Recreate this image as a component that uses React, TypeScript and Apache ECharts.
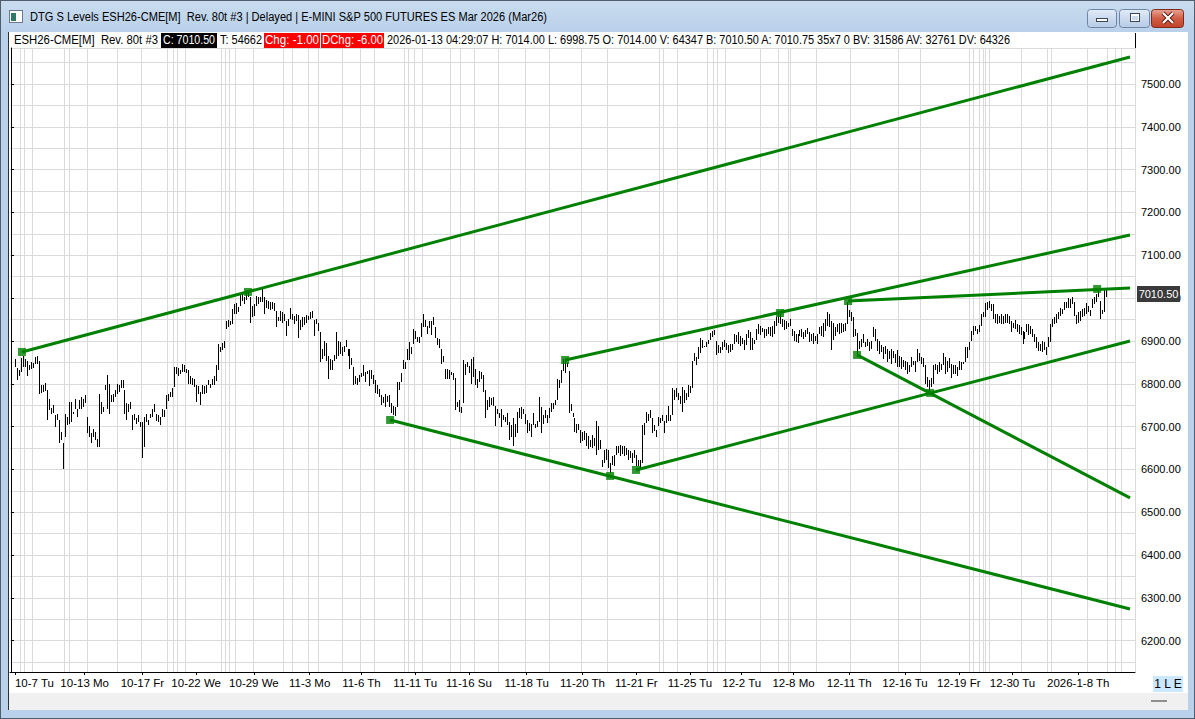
import React, { useEffect, useRef } from 'react';
import * as echarts from 'echarts';

const FONT = "'Liberation Sans', Arial, Helvetica, sans-serif";

// ---------------- data ----------------
// high / low of each 80-tick reversal bar, oldest first
const barHigh: number[] = [
  6858, 6837, 6831, 6860, 6864, 6858, 6854, 6843, 6850, 6848,
  6862, 6864, 6854, 6798, 6796, 6802, 6785, 6765, 6744, 6750,
  6728, 6730, 6715, 6688, 6662, 6730, 6723, 6757, 6757, 6734,
  6765, 6742, 6763, 6768, 6765, 6773, 6723, 6701, 6684, 6695,
  6688, 6670, 6777, 6757, 6746, 6798, 6821, 6800, 6773, 6777,
  6785, 6800, 6796, 6809, 6808, 6785, 6755, 6752, 6757, 6726,
  6729, 6721, 6726, 6711, 6711, 6723, 6729, 6715, 6730, 6740,
  6752, 6730, 6726, 6723, 6742, 6738, 6773, 6775, 6781, 6791,
  6839, 6840, 6837, 6833, 6845, 6843, 6835, 6833, 6819, 6814,
  6812, 6796, 6794, 6781, 6798, 6794, 6796, 6809, 6800, 6812,
  6817, 6843, 6892, 6887, 6895, 6899, 6947, 6949, 6947, 6974,
  6986, 6988, 6980, 7008, 7011, 7003, 7019, 7016, 7002, 6982,
  6986, 7005, 7003, 7003, 7021, 7002, 6995, 6994, 6992, 6990,
  6988, 6971, 6955, 6971, 6967, 6964, 6947, 6951, 6977, 6964,
  6959, 6963, 6961, 6949, 6955, 6955, 6961, 6959, 6967, 6971,
  6949, 6951, 6943, 6922, 6881, 6899, 6895, 6864, 6858, 6856,
  6868, 6920, 6899, 6897, 6887, 6889, 6902, 6881, 6881, 6860,
  6840, 6817, 6814, 6820, 6825, 6843, 6827, 6829, 6831, 6831,
  6820, 6808, 6796, 6788, 6773, 6769, 6777, 6771, 6773, 6754,
  6748, 6746, 6804, 6804, 6825, 6855, 6851, 6882, 6897, 6886,
  6928, 6924, 6910, 6909, 6941, 6963, 6948, 6934, 6946, 6946,
  6955, 6932, 6907, 6905, 6882, 6866, 6835, 6835, 6831, 6828,
  6824, 6814, 6758, 6762, 6746, 6856, 6847, 6851, 6841, 6859,
  6862, 6835, 6812, 6830, 6828, 6820, 6785, 6762, 6768, 6766,
  6768, 6748, 6742, 6731, 6742, 6727, 6723, 6731, 6711, 6704,
  6719, 6707, 6734, 6744, 6746, 6740, 6729, 6715, 6709, 6706,
  6731, 6707, 6713, 6768, 6746, 6727, 6738, 6727, 6744, 6755,
  6754, 6762, 6810, 6808, 6833, 6859, 6856, 6848, 6830, 6752,
  6731, 6719, 6706, 6707, 6693, 6687, 6689, 6684, 6677, 6668,
  6681, 6673, 6712, 6702, 6669, 6623, 6645, 6648, 6646, 6615,
  6631, 6634, 6654, 6655, 6658, 6654, 6654, 6650, 6646, 6642,
  6638, 6646, 6634, 6623, 6621, 6704, 6708, 6733, 6730, 6738,
  6720, 6704, 6693, 6722, 6720, 6727, 6712, 6727, 6747, 6727,
  6789, 6786, 6789, 6779, 6772, 6793, 6786, 6778, 6797, 6795,
  6852, 6873, 6863, 6885, 6906, 6902, 6888, 6898, 6903, 6919,
  6924, 6925, 6900, 6890, 6885, 6898, 6903, 6896, 6890, 6894,
  6894, 6917, 6913, 6921, 6911, 6906, 6903, 6917, 6925, 6921,
  6906, 6902, 6927, 6939, 6934, 6931, 6927, 6929, 6933, 6932,
  6936, 6946, 6957, 6967, 6963, 6951, 6949, 6947, 6943, 6951,
  6928, 6924, 6916, 6916, 6926, 6928, 6920, 6926, 6930, 6920,
  6916, 6918, 6912, 6916, 6932, 6936, 6943, 6951, 6967, 6963,
  6947, 6941, 6932, 6940, 6941, 6943, 6940, 6943, 6990, 6972,
  6967, 6955, 6928, 6918, 6901, 6905, 6916, 6897, 6905, 6897,
  6901, 6932, 6928, 6905, 6901, 6890, 6885, 6889, 6881, 6877,
  6881, 6877, 6870, 6879, 6866, 6862, 6856, 6854, 6850, 6843,
  6862, 6853, 6854, 6881, 6873, 6863, 6860, 6843, 6816, 6808,
  6814, 6843, 6847, 6843, 6850, 6846, 6873, 6862, 6854, 6860,
  6847, 6843, 6843, 6839, 6853, 6850, 6850, 6887, 6885, 6897,
  6924, 6936, 6936, 6928, 6938, 6964, 6967, 6988, 6990, 6994,
  6986, 6986, 6964, 6964, 6959, 6963, 6959, 6963, 6963, 6959,
  6947, 6943, 6949, 6940, 6938, 6933, 6924, 6920, 6940, 6940,
  6936, 6928, 6916, 6909, 6897, 6893, 6899, 6897, 6887, 6909,
  6940, 6951, 6955, 6963, 6967, 6978, 6974, 6990, 6992, 7000,
  6998, 7002, 6990, 6961, 6967, 6971, 6974, 6977, 6988, 6982,
  6972, 6998, 7002, 7009, 7017, 6994, 6972, 7019, 7023
];

const barLow: number[] = [
  6839, 6808, 6819, 6827, 6839, 6839, 6819, 6831, 6835, 6837,
  6847, 6845, 6777, 6778, 6781, 6783, 6715, 6738, 6730, 6732,
  6699, 6715, 6662, 6668, 6602, 6676, 6703, 6707, 6711, 6730,
  6740, 6723, 6742, 6742, 6746, 6754, 6684, 6676, 6662, 6676,
  6668, 6653, 6653, 6730, 6734, 6785, 6742, 6730, 6757, 6757,
  6769, 6777, 6781, 6791, 6791, 6730, 6716, 6734, 6742, 6692,
  6716, 6707, 6711, 6699, 6627, 6653, 6711, 6703, 6721, 6723,
  6734, 6713, 6711, 6703, 6723, 6723, 6742, 6760, 6768, 6769,
  6792, 6822, 6819, 6823, 6827, 6827, 6825, 6800, 6800, 6796,
  6792, 6757, 6777, 6750, 6775, 6777, 6778, 6796, 6791, 6798,
  6798, 6806, 6831, 6874, 6878, 6884, 6928, 6932, 6938, 6940,
  6964, 6963, 6967, 6982, 6994, 6986, 6995, 7002, 6943, 6955,
  6959, 6982, 6986, 6990, 6992, 6964, 6978, 6974, 6972, 6974,
  6969, 6932, 6946, 6947, 6943, 6947, 6912, 6936, 6951, 6949,
  6940, 6947, 6907, 6926, 6932, 6938, 6941, 6949, 6951, 6953,
  6912, 6940, 6924, 6850, 6858, 6866, 6854, 6812, 6831, 6833,
  6854, 6858, 6866, 6870, 6866, 6874, 6885, 6866, 6835, 6843,
  6796, 6800, 6798, 6804, 6816, 6817, 6804, 6823, 6794, 6812,
  6800, 6778, 6777, 6769, 6750, 6754, 6746, 6757, 6746, 6731,
  6727, 6724, 6746, 6785, 6804, 6835, 6835, 6855, 6855, 6870,
  6893, 6905, 6897, 6895, 6909, 6932, 6932, 6917, 6930, 6915,
  6938, 6907, 6890, 6884, 6847, 6851, 6810, 6810, 6812, 6820,
  6808, 6738, 6746, 6735, 6731, 6754, 6820, 6839, 6825, 6800,
  6816, 6797, 6789, 6804, 6812, 6781, 6721, 6738, 6746, 6750,
  6748, 6701, 6729, 6719, 6700, 6715, 6711, 6704, 6669, 6676,
  6655, 6675, 6686, 6721, 6717, 6729, 6706, 6686, 6690, 6675,
  6704, 6696, 6700, 6711, 6686, 6707, 6719, 6709, 6721, 6734,
  6740, 6750, 6762, 6789, 6802, 6830, 6825, 6839, 6732, 6737,
  6723, 6688, 6686, 6692, 6662, 6666, 6669, 6654, 6648, 6652,
  6650, 6655, 6634, 6646, 6648, 6606, 6615, 6623, 6604, 6592,
  6611, 6607, 6634, 6638, 6631, 6637, 6631, 6634, 6623, 6627,
  6615, 6627, 6607, 6607, 6600, 6615, 6681, 6708, 6714, 6720,
  6686, 6689, 6676, 6702, 6708, 6712, 6686, 6708, 6712, 6712,
  6727, 6762, 6768, 6762, 6753, 6735, 6756, 6762, 6768, 6778,
  6790, 6852, 6844, 6857, 6871, 6883, 6885, 6886, 6893, 6902,
  6910, 6914, 6867, 6871, 6872, 6879, 6886, 6880, 6872, 6875,
  6879, 6894, 6898, 6894, 6888, 6893, 6880, 6890, 6906, 6879,
  6880, 6894, 6902, 6917, 6914, 6921, 6906, 6911, 6917, 6912,
  6909, 6916, 6936, 6943, 6940, 6932, 6926, 6928, 6932, 6936,
  6912, 6899, 6897, 6895, 6912, 6909, 6905, 6910, 6916, 6897,
  6901, 6893, 6899, 6892, 6916, 6912, 6909, 6924, 6936, 6932,
  6878, 6902, 6912, 6920, 6916, 6918, 6920, 6924, 6940, 6955,
  6947, 6909, 6912, 6868, 6881, 6885, 6895, 6885, 6889, 6877,
  6881, 6909, 6901, 6877, 6870, 6874, 6858, 6870, 6850, 6858,
  6847, 6860, 6848, 6840, 6840, 6835, 6839, 6831, 6822, 6827,
  6840, 6843, 6827, 6850, 6854, 6847, 6840, 6799, 6792, 6777,
  6792, 6800, 6831, 6823, 6827, 6832, 6843, 6822, 6827, 6837,
  6814, 6823, 6822, 6819, 6831, 6831, 6847, 6850, 6860, 6878,
  6901, 6915, 6924, 6916, 6920, 6936, 6955, 6957, 6972, 6977,
  6969, 6951, 6943, 6940, 6943, 6940, 6940, 6941, 6943, 6940,
  6922, 6930, 6927, 6920, 6916, 6915, 6893, 6905, 6920, 6915,
  6916, 6909, 6897, 6884, 6876, 6876, 6874, 6879, 6868, 6887,
  6897, 6932, 6940, 6943, 6951, 6959, 6963, 6972, 6977, 6977,
  6978, 6986, 6959, 6940, 6943, 6947, 6955, 6959, 6964, 6967,
  6959, 6978, 6986, 6990, 7002, 6951, 6964, 6967, 7002
];

const firstBarSlot = 2;      // slot of the oldest bar on the time axis
const slotCount = 565;       // bar slots on the time axis (incl. empty right margin)
const lastPrice = 7010.5;
const priceMin = 6127;
const priceMax = 7584;
const priceLabelStep = 100;

// date labels on the time axis (slot index -> text)
const dateTickSlot = [2, 37, 66, 93, 122, 150, 176, 203, 230, 259, 287, 314, 341, 367, 393, 421, 449, 476, 503, 536];
const dateTickLabel = [
  '10-7 Tu', '10-13 Mo', '10-17 Fr', '10-22 We', '10-29 We', '11-3 Mo', '11-6 Th', '11-11 Tu',
  '11-16 Su', '11-18 Tu', '11-20 Th', '11-21 Fr', '11-25 Tu', '12-2 Tu', '12-8 Mo', '12-11 Th',
  '12-16 Tu', '12-19 Fr', '12-30 Tu', '2026-1-8 Th'
];
// session-break vertical grid lines (slot index)
const sessionLineSlot = [
  5, 7, 11, 27, 30, 39, 54, 66, 79, 82, 84, 88, 106, 108, 110, 113, 122, 137, 142, 150, 155, 167,
  176, 183, 198, 200, 203, 207, 221, 226, 233, 245, 259, 271, 287, 300, 326, 328, 335, 350, 353,
  355, 359, 377, 386, 391, 392, 405, 422, 446, 457, 482, 484, 487, 489, 490, 492, 508, 521, 523,
  541, 551, 555, 558
];

// drawn trend lines: [slot, price] start / end
const trendFrom: number[][] = [
  [5.5, 6874.3], [278.3, 6855.6], [420.4, 6993.3], [313.9, 6598.8], [190.4, 6715.5], [424.9, 6867.3]
];
const trendTo: number[][] = [
  [562, 7563.0], [562, 7147.4], [562, 7023.7], [562, 6900.0], [562, 6274.0], [562, 6533.4]
];
// square anchors of the trend lines: [slot, price]
const anchorPoints: number[][] = [
  [5.5, 6874.3], [119, 7014.4], [190.4, 6715.5], [278.3, 6855.6], [300.9, 6584.8], [313.9, 6598.8],
  [386.2, 6965.3], [420.4, 6993.3], [424.9, 6867.3], [461.6, 6778.6], [545.5, 7021.4]
];

const titleText = 'DTG S Levels ESH26-CME[M]  Rev. 80t #3 | Delayed | E-MINI S&P 500 FUTURES ES Mar 2026 (Mar26)';
const infoSymbol = 'ESH26-CME[M]  Rev. 80t #3';
const infoClose = 'C: 7010.50';
const infoTicks = 'T: 54662';
const infoChg = 'Chg: -1.00';
const infoDChg = 'DChg: -6.00';
const infoTail = '2026-01-13 04:29:07 H: 7014.00 L: 6998.75 O: 7014.00 V: 64347 B: 7010.50 A: 7010.75 35x7 0 BV: 31586 AV: 32761 DV: 64326';

// ---------------- chart ----------------
const GREEN = '#008000';
const GRID = '#dadada';

function Chrome() {
  const t = { fontFamily: FONT, fontSize: 12 } as React.CSSProperties;
  return (
    <svg width={1195} height={719} style={{ position: 'absolute', left: 0, top: 0 }}>
      <defs>
        <linearGradient id="tbg" x1="0" y1="0" x2="0" y2="1">
          <stop offset="0" stopColor="#cadcef" />
          <stop offset="1" stopColor="#b9d1ea" />
        </linearGradient>
        <linearGradient id="btn" x1="0" y1="0" x2="0" y2="1">
          <stop offset="0" stopColor="#e3ecf7" />
          <stop offset="0.5" stopColor="#cbdaee" />
          <stop offset="1" stopColor="#b6cbe6" />
        </linearGradient>
        <linearGradient id="cls" x1="0" y1="0" x2="0" y2="1">
          <stop offset="0" stopColor="#e8a493" />
          <stop offset="0.5" stopColor="#d25d45" />
          <stop offset="1" stopColor="#c1422b" />
        </linearGradient>
      </defs>
      <rect x={0} y={0} width={1195} height={719} fill="#b9d1ea" />
      <rect x={0} y={0} width={1195} height={32} fill="url(#tbg)" />
      <rect x={0.5} y={0.5} width={1194} height={718} fill="none" stroke="#4f5d6d" />
      {/* icon */}
      <rect x={9.5} y={10.5} width={13} height={12} fill="#ffffff" stroke="#6b7b8c" />
      <rect x={11} y={13} width={5} height={8} fill="#2f7a66" />
      <text x={30} y={21} style={{ ...t, whiteSpace: 'pre' }} fill="#000" textLength={517} lengthAdjust="spacingAndGlyphs">{titleText}</text>
      {/* window buttons */}
      <rect x={1087.5} y={9.5} width={29} height={18} rx={3} fill="url(#btn)" stroke="#6d86a6" />
      <rect x={1096.5} y={18.5} width={11} height={3} fill="#fff" stroke="#3b4656" />
      <rect x={1119.5} y={9.5} width={30} height={18} rx={3} fill="url(#btn)" stroke="#6d86a6" />
      <rect x={1130.5} y={13.5} width={9} height={8} fill="#fff" stroke="#3b4656" />
      <rect x={1132} y={16} width={6} height={4} fill="#cbdaee" />
      <rect x={1151.5} y={9.5} width={32} height={18} rx={3} fill="url(#cls)" stroke="#7d2a1c" />
      <path d="M1163 13 L1173 23 M1173 13 L1163 23" stroke="#5a1a10" strokeWidth={4} />
      <path d="M1163 13 L1173 23 M1173 13 L1163 23" stroke="#fff" strokeWidth={2.2} />
      {/* content panel */}
      <rect x={8} y={32} width={1180} height={678} fill="#ffffff" />
      <rect x={8} y={32} width={1} height={678} fill="#2f2f2f" />
      <rect x={9} y={693} width={1179} height={17} fill="#f0f0f0" />
      <rect x={1151} y={700} width={16} height={2} fill="#8f8f8f" />
      <rect x={1153} y={676} width={30} height={16} fill="#cce8ff" />
      <text x={1168} y={688} textAnchor="middle" style={t} fill="#000">1 L E</text>
      {/* info line */}
      <text x={14} y={44} style={{ ...t, whiteSpace: 'pre' }} fill="#000" textLength={144} lengthAdjust="spacingAndGlyphs">{infoSymbol}</text>
      <rect x={161} y={33} width={56} height={15} fill="#000" />
      <text x={163} y={44} style={t} fill="#fff" textLength={52} lengthAdjust="spacingAndGlyphs">{infoClose}</text>
      <text x={220} y={44} style={t} fill="#000" textLength={42} lengthAdjust="spacingAndGlyphs">{infoTicks}</text>
      <rect x={264} y={33} width={56} height={15} fill="#ff0000" />
      <text x={265} y={44} style={t} fill="#fff" textLength={54} lengthAdjust="spacingAndGlyphs">{infoChg}</text>
      <rect x={321} y={33} width={63} height={15} fill="#ff0000" />
      <text x={322} y={44} style={t} fill="#fff" textLength={61} lengthAdjust="spacingAndGlyphs">{infoDChg}</text>
      <text x={387} y={44} style={t} fill="#000" textLength={623} lengthAdjust="spacingAndGlyphs">{infoTail}</text>
      <rect x={1135} y={33} width={1} height={15} fill="#000" />
    </svg>
  );
}

export default function App() {
  const ref = useRef<HTMLDivElement>(null);

  useEffect(() => {
    if (!ref.current) return;
    const chart = echarts.init(ref.current, undefined, { renderer: 'svg' });

    const labelMap = new Map<number, string>();
    dateTickSlot.forEach((s, k) => labelMap.set(s, dateTickLabel[k]));
    const lineSet = new Set(sessionLineSlot);

    const categories: any[] = Array.from({ length: slotCount }, (_, i) =>
      i === dateTickSlot[0] ? { value: String(i), textStyle: { align: 'left' } } : String(i)
    );

    const bars = barHigh.map((h, k) => [firstBarSlot + k, barLow[k], h]);

    const trendSeries = trendFrom.map((from, k) => ({
      type: 'line',
      xAxisIndex: 1,
      yAxisIndex: 0,
      data: [from, trendTo[k]],
      symbol: 'none',
      silent: true,
      z: 3,
      lineStyle: { color: GREEN, width: 3 },
    }));

    chart.setOption({
      animation: false,
      backgroundColor: 'transparent',
      textStyle: { fontFamily: FONT },
      grid: { left: 10, right: 60, top: 48, bottom: 47, containLabel: false },
      xAxis: [
        {
          type: 'category',
          data: categories,
          boundaryGap: true,
          position: 'bottom',
          axisLine: { show: true, lineStyle: { color: '#000', width: 1 } },
          axisTick: {
            show: true,
            alignWithLabel: true,
            length: 3,
            interval: (i: number) => labelMap.has(i),
            lineStyle: { color: '#000' },
          },
          axisLabel: {
            interval: (i: number) => labelMap.has(i),
            formatter: (_v: string, i: number) => labelMap.get(i) || '',
            color: '#000',
            fontSize: 11.5,
            fontFamily: FONT,
            margin: 5,
          },
          splitLine: {
            show: true,
            interval: (i: number) => lineSet.has(i),
            lineStyle: { color: GRID, width: 1 },
          },
        },
        { type: 'value', min: -0.5, max: slotCount - 0.5, show: false },
      ],
      yAxis: {
        type: 'value',
        position: 'right',
        min: priceMin,
        max: priceMax,
        splitNumber: 14,
        minInterval: priceLabelStep,
        maxInterval: priceLabelStep,
        axisLine: { show: true, lineStyle: { color: '#000', width: 1 } },
        axisTick: { show: true, length: 3, lineStyle: { color: '#000' } },
        axisLabel: {
          showMinLabel: false,
          showMaxLabel: false,
          formatter: (v: number) => (Math.abs(v % priceLabelStep) < 1e-6 ? v.toFixed(2) : ''),
          color: '#000',
          fontSize: 11,
          fontFamily: FONT,
          margin: 6,
        },
        splitLine: { show: true, lineStyle: { color: GRID, width: 1 } },
        minorTick: { show: false, splitNumber: 2 },
        minorSplitLine: { show: true, lineStyle: { color: GRID, width: 1 } },
      },
      series: [
        {
          type: 'custom',
          xAxisIndex: 1,
          yAxisIndex: 0,
          silent: true,
          z: 2,
          data: bars,
          renderItem: (_p: any, api: any) => {
            const slot = api.value(0);
            const top = api.coord([slot, api.value(2)]);
            const bot = api.coord([slot, api.value(1)]);
            const x = Math.round(top[0]);
            const y1 = Math.round(top[1]);
            const y2 = Math.round(bot[1]);
            return {
              type: 'rect',
              shape: { x, y: y1, width: 1, height: Math.max(1, y2 - y1) },
              style: { fill: '#000' },
            };
          },
        },
        ...trendSeries,
        {
          type: 'scatter',
          xAxisIndex: 1,
          yAxisIndex: 0,
          data: anchorPoints,
          symbol: 'rect',
          symbolSize: 8,
          silent: true,
          z: 4,
          itemStyle: { color: GREEN },
        },
      ],
    });

    const py = Math.round(chart.convertToPixel({ yAxisIndex: 0 } as any, lastPrice) as number);
    chart.setOption({
      graphic: [
        {
          type: 'rect',
          z: 100,
          shape: { x: 1137, y: py - 8, width: 43, height: 16 },
          style: { fill: '#3a3a3a' },
        },
        {
          type: 'text',
          z: 101,
          x: 1158.5,
          y: py,
          style: {
            text: lastPrice.toFixed(2),
            fill: '#fff',
            font: `11px ${FONT}`,
            align: 'center',
            verticalAlign: 'middle',
          },
        },
      ],
    });

    return () => chart.dispose();
  }, []);

  return (
    <div style={{ position: 'fixed', left: 0, top: 0, width: 1195, height: 719, overflow: 'hidden', background: '#b9d1ea' }}>
      <Chrome />
      <div ref={ref} style={{ position: 'absolute', left: 0, top: 0, width: 1195, height: 719 }} />
    </div>
  );
}
